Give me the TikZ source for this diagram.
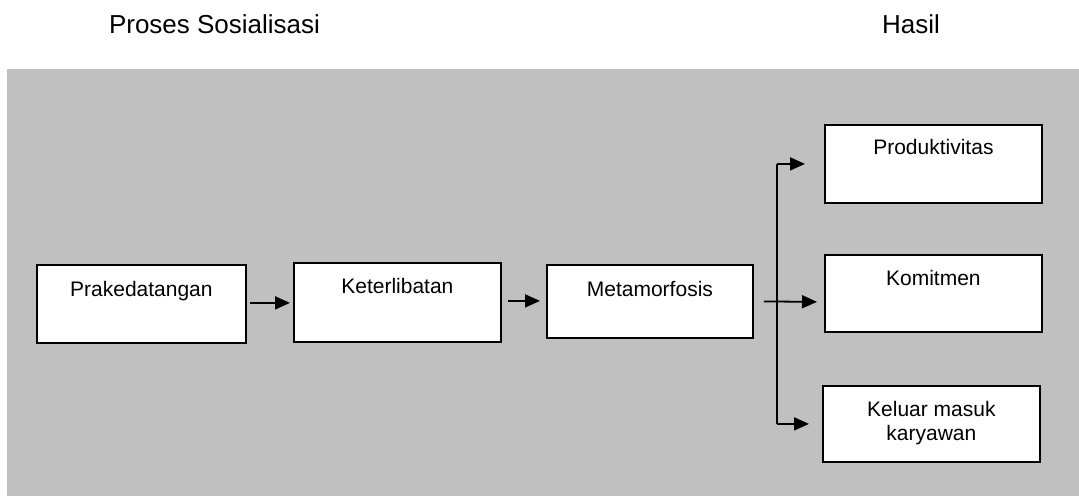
\documentclass[tikz,border=0pt]{standalone}
\usepackage{fontspec}
\setmainfont{Liberation Sans}
\usetikzlibrary{arrows.meta,calc}
\definecolor{bggray}{RGB}{192,192,192}
\begin{document}
\begin{tikzpicture}[x=1pt,y=-1pt,
  box/.style={draw=black, fill=white, line width=1.8pt, anchor=north west, inner sep=0pt},
  lbl/.style={anchor=base, inner sep=0pt, font=\fontsize{21}{24}\selectfont},
  head/.style={anchor=base, inner sep=0pt, font=\fontsize{26}{30}\selectfont},
  arr/.style={line width=1.8pt, -{Triangle[length=15pt,width=13pt]}},
  ln/.style={line width=1.8pt}]
\useasboundingbox (0,0) rectangle (1079,496);
\fill[bggray] (7,69) rectangle (1079,496);

\node[head] (h1) at (214.5,33) {Proses Sosialisasi};
\node[head] (h2) at (911,33) {Hasil};

\node[box, minimum width=209pt, minimum height=78pt] (pra) at (36,264) {};
\node[box, minimum width=207pt, minimum height=79pt] (ket) at (293,262) {};
\node[box, minimum width=206pt, minimum height=73pt] (meta) at (546,264) {};
\node[box, minimum width=217pt, minimum height=78pt] (prod) at (824,124) {};
\node[box, minimum width=217pt, minimum height=77pt] (kom) at (824,254) {};
\node[box, minimum width=217pt, minimum height=76pt] (kel) at (822,385) {};

\node[lbl] (tpra) at ($(pra.north)+(0,32)$) {Prakedatangan};
\node[lbl] (tket) at ($(ket.north)+(0,31)$) {Keterlibatan};
\node[lbl] (tmeta) at ($(meta.north)+(0,32)$) {Metamorfosis};
\node[lbl] (tprod) at ($(prod.north)+(0,30)$) {Produktivitas};
\node[lbl] (tkom) at ($(kom.north)+(0,31)$) {Komitmen};
\node[lbl, align=center] (tkel) at ($(kel.north)+(0,55)$) {Keluar masuk\\karyawan};

\coordinate (split) at (777,301);
\draw[arr] ($(pra.east)+(3,-1)$) -- ($(ket.west)+(-3,0.5)$);
\draw[arr] ($(ket.east)+(6,-1.5)$) -- ($(meta.west)+(-6,-0.5)$);
\draw[arr] ($(meta.east)+(10,0)$) -- ($(kom.west)+(-7,8.5)$);
\draw[ln] (split |- prod.west) -- (split |- kel.west);
\draw[arr] (split |- prod.west) -- ($(prod.west)+(-19,0)$);
\draw[arr] (split |- kel.west) -- ($(kel.west)+(-13,0)$);
\end{tikzpicture}
\end{document}
